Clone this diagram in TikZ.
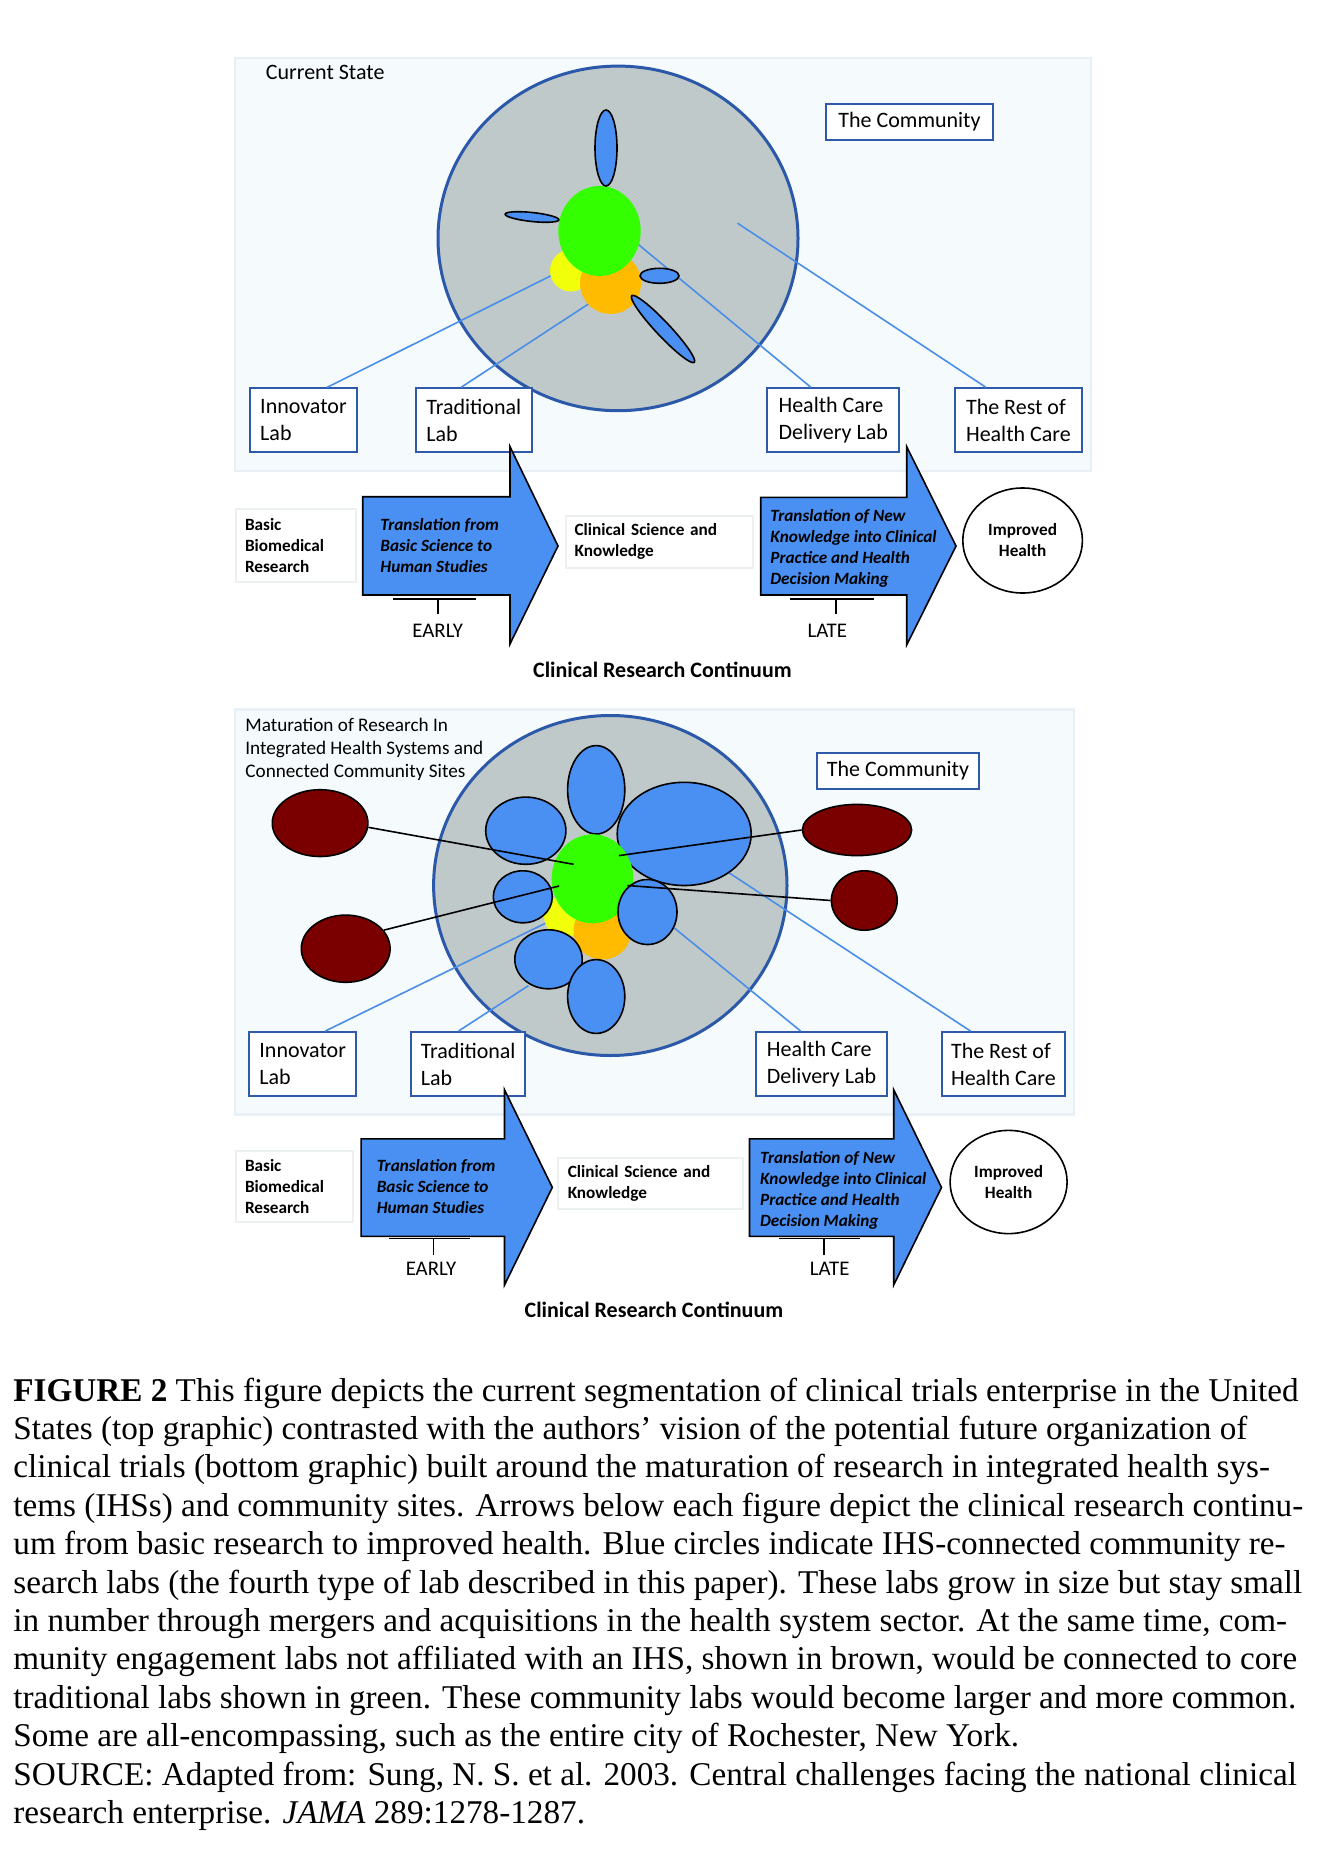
\documentclass[tikz,border=0pt]{standalone}
\usepackage{fontspec}
\setmainfont{Liberation Serif}
\newfontfamily\calibri{Carlito}
\usetikzlibrary{shapes.geometric,calc}

\definecolor{framefill}{HTML}{F5FAFD}
\definecolor{frameline}{HTML}{E8F0F6}
\definecolor{circgray}{HTML}{BFC9C9}
\definecolor{circline}{HTML}{2B58A8}
\definecolor{labline}{HTML}{2F5AAA}
\definecolor{labblue}{HTML}{4A8FF2}
\definecolor{connblue}{HTML}{4A8EE8}
\definecolor{coregreen}{HTML}{33FF00}
\definecolor{coreyellow}{HTML}{F2FF0A}
\definecolor{coreorange}{HTML}{FFBB00}
\definecolor{commbrown}{HTML}{7A0000}
\definecolor{boxgray}{HTML}{ECF0F0}

\begin{document}
\begin{tikzpicture}[x=0.5pt,y=-0.5pt,font=\calibri,
  frame/.style={fill=framefill,draw=frameline,line width=1.2pt},
  world/.style={ellipse,inner sep=0pt,draw=circline,line width=1.5pt,fill=circgray},
  blob/.style={ellipse,inner sep=0pt},
  ihs/.style={blob,fill=labblue,draw=black,line width=0.8pt},
  comm/.style={blob,fill=commbrown,draw=black,line width=0.8pt},
  conn/.style={connblue,line width=0.8pt},
  tie/.style={black,line width=0.8pt},
  lab/.style={draw=labline,line width=1pt,fill=white,align=left,inner sep=0pt,font=\calibri\fontsize{11}{13.4}\selectfont},
  plainbox/.style={draw=boxgray,line width=1pt,fill=white,align=left,inner ysep=0pt,font=\calibri\bfseries\fontsize{8.6}{10.6}\selectfont},
  flow/.style={fill=labblue,draw=black,line width=0.8pt,line join=miter},
  flowtext/.style={anchor=west,align=left,inner sep=0pt,font=\calibri\bfseries\itshape\fontsize{8.6}{10.5}\selectfont},
  goal/.style={ellipse,inner sep=0pt,draw=black,line width=0.8pt,fill=white,align=center,font=\calibri\bfseries\fontsize{8.6}{10.5}\selectfont},
  stage/.style={inner sep=0pt,font=\calibri\fontsize{10.4}{12}\selectfont},
  ]
\fill[white] (0,0) rectangle (1339,1867);
\useasboundingbox (0,0) rectangle (1339,1867);

% ---------- top graphic: current state ----------
\draw[frame] (234.7,58) rectangle (1091,471);
\node[anchor=west,inner sep=0pt,font=\calibri\fontsize{11}{13.4}\selectfont] (now) at (265.5,72.8) {Current State};
\node[world,minimum width=180pt,minimum height=172.3pt] (world1) at (618,238.4) {};
\node[lab,minimum width=83.2pt,minimum height=18.3pt] (comm1) at (909.5,121.9) {The Community};

\node[lab,minimum width=53.35pt,minimum height=31.9pt] (inno1) at (303.5,420.3) {Innovator\\Lab};
\node[lab,minimum width=58.05pt,minimum height=31.9pt] (trad1) at (473.8,420.3) {Traditional\\Lab};
\node[lab,minimum width=65.75pt,minimum height=31.9pt] (hcdl1) at (833.2,420.3) {Health Care\\Delivery Lab};
\node[lab,minimum width=63.15pt,minimum height=31.9pt] (rest1) at (1018.4,420.3) {The Rest of\\Health Care};

\coordinate (inno1end) at (550.6,275.9);
\coordinate (trad1end) at (589,303.6);
\coordinate (hcdl1end) at (638.5,244.6);
\coordinate (rest1end) at (737.5,223.2);
\draw[conn] ($(inno1.north)+(23.5,0)$) -- (inno1end);
\draw[conn] ($(trad1.north)+(-12.8,0)$) -- (trad1end);
\draw[conn] ($(hcdl1.north)+(-22.2,0)$) -- (hcdl1end);
\draw[conn] ($(rest1.north)+(-32.4,0)$) -- (rest1end);

\node[blob,fill=coreyellow,minimum width=21pt,minimum height=21pt] (yel1) at (571,270.5) {};
\node[blob,fill=coreorange,minimum width=30.5pt,minimum height=31pt] (ora1) at (610.5,283) {};
\node[blob,fill=coregreen,minimum width=41.2pt,minimum height=45pt] (core1) at (599.5,231) {};
\node[ihs,minimum width=11pt,minimum height=38pt] (up1) at (606,148) {};
\node[ihs,minimum width=27pt,minimum height=4.5pt,rotate=-6] (left1) at (532,217) {};
\node[ihs,minimum width=19.5pt,minimum height=7.5pt] (right1) at (659.5,275.8) {};
\node[ihs,minimum width=45.7pt,minimum height=7pt,rotate=-46.8] (diag1) at (663,329) {};

% continuum row
\node[plainbox,inner xsep=4.7pt,text width=50.8pt,minimum height=36.35pt] (basic1) at (295.8,545.4) {Basic\\Biomedical\\Research};
\draw[flow] (362.7,496.7) -- (510,496.7) -- (510,446.7) -- (558,546) -- (510,644) -- (510,595) -- (362.7,595) -- cycle;
\node[flowtext] (early1txt) at (380,545.9) {Translation from\\Basic Science to\\Human Studies};
\node[plainbox,inner xsep=4.25pt,text width=84.95pt,minimum height=26.15pt] (know1) at (659.5,541.75) {Clinical Science and\\Knowledge};
\draw[flow] (760.7,497.3) -- (906.7,497.3) -- (906.7,446.7) -- (956,546) -- (906.7,645) -- (906.7,595) -- (760.7,595) -- cycle;
\node[flowtext] (late1txt) at (770,548.6) {Translation of New\\Knowledge into Clinical\\Practice and Health\\Decision Making};
\node[goal,minimum width=59.8pt,minimum height=52.5pt] (health1) at (1022.6,540.5) {Improved\\Health};
\draw[tie] (393.3,599) -- (475.7,599) (437.7,599) -- (437.7,614);
\node[stage] (early1) at (437.7,631) {EARLY};
\draw[tie] (790,599) -- (874,599) (836,599) -- (836,614);
\node[stage] (late1) at (827.3,631) {LATE};
\node[inner sep=0pt,font=\calibri\bfseries\fontsize{11}{13}\selectfont] (crc1) at (662.4,669.6) {Clinical Research Continuum};

% ---------- bottom graphic: future state ----------
\draw[frame] (234.7,709.5) rectangle (1073.8,1114.5);
\node[world,minimum width=176.7pt,minimum height=170pt] (world2) at (610.3,885.5) {};
\node[anchor=west,align=left,inner sep=0pt,font=\calibri\fontsize{9.6}{11.7}\selectfont] (future) at (245,749.4) {Maturation of Research In\\Integrated Health Systems and\\Connected Community Sites};
\node[lab,minimum width=81pt,minimum height=18.2pt] (comm2) at (898,771.1) {The Community};

\node[lab,minimum width=53.35pt,minimum height=32.1pt] (inno2) at (302.7,1064.2) {Innovator\\Lab};
\node[lab,minimum width=56.8pt,minimum height=32.1pt] (trad2) at (468.2,1064.2) {Traditional\\Lab};
\node[lab,minimum width=65.3pt,minimum height=32.1pt] (hcdl2) at (821.6,1064.2) {Health Care\\Delivery Lab};
\node[lab,minimum width=61.9pt,minimum height=32.1pt] (rest2) at (1003.4,1064.2) {The Rest of\\Health Care};

\coordinate (inno2end) at (546.3,922.8);
\coordinate (trad2end) at (528.4,985.7);
\coordinate (hcdl2end) at (674.3,928);
\coordinate (rest2end) at (727.3,871.7);
\draw[conn] ($(inno2.north)+(22.5,0)$) -- (inno2end);
\draw[conn] ($(trad2.north)+(-9.8,0)$) -- (trad2end);
\draw[conn] ($(hcdl2.north)+(-20.9,0)$) -- (hcdl2end);
\draw[conn] ($(rest2.north)+(-32.8,0)$) -- (rest2end);

\node[ihs,minimum width=28.6pt,minimum height=44.2pt] (lab1) at (596.2,789.8) {};
\node[ihs,minimum width=40.1pt,minimum height=33.6pt] (lab2) at (525.8,830.7) {};
\node[ihs,minimum width=67pt,minimum height=51.6pt] (lab3) at (684.2,833.9) {};
\node[blob,fill=coreyellow,minimum width=21pt,minimum height=21pt] (yel2) at (565,916) {};
\node[blob,fill=coreorange,minimum width=29pt,minimum height=29pt] (ora2) at (602.5,930.5) {};
\node[blob,fill=coregreen,minimum width=40.8pt,minimum height=44.5pt] (core2) at (592.5,878.8) {};
\node[ihs,minimum width=29.5pt,minimum height=26pt] (lab4) at (522.8,896.8) {};
\node[ihs,minimum width=29.5pt,minimum height=32.5pt] (lab5) at (647.5,912) {};
\node[ihs,minimum width=33.7pt,minimum height=29.5pt] (lab6) at (548.5,959.3) {};
\node[ihs,minimum width=28.6pt,minimum height=36.9pt] (lab7) at (596.2,996.5) {};

\node[comm,minimum width=47.8pt,minimum height=33.4pt] (site1) at (320.1,823.1) {};
\node[comm,minimum width=44.4pt,minimum height=33.6pt] (site2) at (345.7,948.7) {};
\node[comm,minimum width=54.6pt,minimum height=25.6pt] (site3) at (857,830) {};
\node[comm,minimum width=32.9pt,minimum height=29.7pt] (site4) at (864.3,900.5) {};
\coordinate (core2a) at (573.6,864.3);
\coordinate (core2b) at (559.1,886);
\coordinate (core2c) at (618.9,855.6);
\coordinate (core2d) at (627.4,885.5);
\draw[tie] (site1.-5) -- (core2a);
\draw[tie] (site2.26) -- (core2b);
\draw[tie] (site3.west) -- (core2c);
\draw[tie] (site4.west) -- (core2d);

% continuum row
\node[plainbox,inner xsep=4.7pt,text width=49.5pt,minimum height=35.8pt] (basic2) at (294.5,1186.3) {Basic\\Biomedical\\Research};
\draw[flow] (361.1,1138.8) -- (504.5,1138.8) -- (504.5,1089.8) -- (552.3,1187.4) -- (504.5,1285) -- (504.5,1236.4) -- (361.1,1236.4) -- cycle;
\node[flowtext] (early2txt) at (376.4,1186.7) {Translation from\\Basic Science to\\Human Studies};
\node[plainbox,inner xsep=4.7pt,text width=82.75pt,minimum height=25.35pt] (know2) at (650.5,1183.65) {Clinical Science and\\Knowledge};
\draw[flow] (749.5,1138.8) -- (893.7,1138.8) -- (893.7,1089.8) -- (941.5,1187.4) -- (893.7,1285) -- (893.7,1236.4) -- (749.5,1236.4) -- cycle;
\node[flowtext] (late2txt) at (759.7,1190) {Translation of New\\Knowledge into Clinical\\Practice and Health\\Decision Making};
\node[goal,minimum width=58.5pt,minimum height=51.6pt] (health2) at (1008.6,1182) {Improved\\Health};
\draw[tie] (389.2,1238.5) -- (470.3,1238.5) (433.6,1238.5) -- (433.6,1254.6);
\node[stage] (early2) at (431,1268.5) {EARLY};
\draw[tie] (779.3,1238.5) -- (860.4,1238.5) (823.7,1238.5) -- (823.7,1254.6);
\node[stage] (late2) at (829.7,1268.5) {LATE};
\node[inner sep=0pt,font=\calibri\bfseries\fontsize{11}{13}\selectfont] (crc2) at (653.9,1309.7) {Clinical Research Continuum};

% ---------- caption ----------
\node[anchor=north west,inner sep=0pt,align=left,font=\rmfamily\fontsize{16.6}{19.2}\selectfont] (caption) at (13,1377.3) {%
\textbf{FIGURE 2} This figure depicts the current segmentation of clinical trials enterprise in the United\\
States (top graphic) contrasted with the authors’ vision of the potential future organization of\\
clinical trials (bottom graphic) built around the maturation of research in integrated health sys-\\
tems (IHSs) and community sites. Arrows below each figure depict the clinical research continu-\\
um from basic research to improved health. Blue circles indicate IHS-connected community re-\\
search labs (the fourth type of lab described in this paper). These labs grow in size but stay small\\
in number through mergers and acquisitions in the health system sector. At the same time, com-\\
munity engagement labs not affiliated with an IHS, shown in brown, would be connected to core\\
traditional labs shown in green. These community labs would become larger and more common.\\
Some are all-encompassing, such as the entire city of Rochester, New York.\\
SOURCE: Adapted from: Sung, N. S. et al. 2003. Central challenges facing the national clinical\\
research enterprise. \textit{JAMA} 289:1278-1287.};
\end{tikzpicture}
\end{document}
